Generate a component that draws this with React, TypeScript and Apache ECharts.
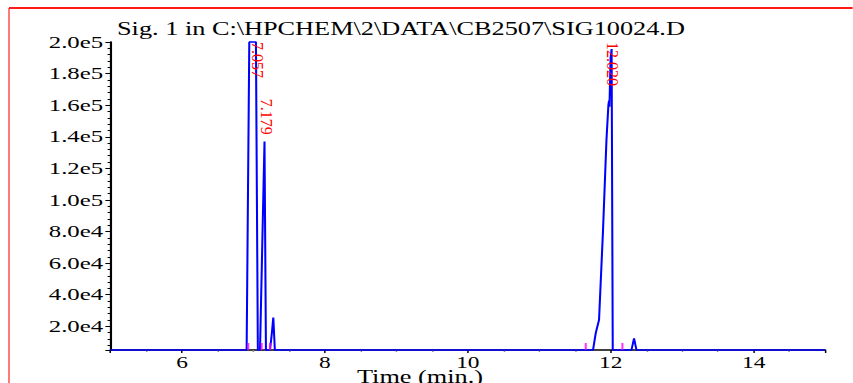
import React, { useEffect, useRef } from "react";
import * as echarts from "echarts";

// ---- data (time in min, signal counts) ----
const timeMin = [
  5.0, 6.905, 6.942, 7.035, 7.062, 7.092, 7.155, 7.175, 7.232, 7.258, 7.278, 7.3,
  11.752, 11.79, 11.836, 11.892, 11.94, 11.967, 11.976, 11.982, 11.998, 12.012, 12.028,
  12.29, 12.326, 12.36, 15.0,
];
const signal = [
  5000, 5000, 200000, 200000, 5000, 5000, 137000, 5000, 5000, 15800, 25500, 5000,
  5000, 15700, 24000, 81000, 138000, 160000, 163000, 159000, 190000, 195500, 5000,
  5000, 12400, 5000, 5000,
];
const peakLabels = ["7.057", "7.179", "12.020"];
const peakLabelTops = [200000, 164000, 200000];
const baselineMarks = [6.927, 7.115, 7.231, 11.65, 12.163];
const baselineLevel = 5000;
const titleText = "Sig. 1 in C:\\HPCHEM\\2\\DATA\\CB2507\\SIG10024.D";
const xName = "Time (min.)";

const S = 1.46; // horizontal stretch of the original picture
const W = 853 / S;
const H = 383;
const FONT = '"Liberation Serif", "Times New Roman", serif';

export default function App() {
  const ref = useRef<HTMLDivElement>(null);
  useEffect(() => {
    if (!ref.current) return;
    const chart = echarts.init(ref.current, null, { renderer: "svg" });
    const lineData = timeMin.map((t, i) => [t, signal[i]]);
    const labelData = peakLabels.map((l, i) => [parseFloat(l), peakLabelTops[i]]);
    const markData = baselineMarks.map((t) => [t, baselineLevel]);
    chart.setOption({
      animation: false,
      title: {
        text: titleText,
        left: 117 / S,
        top: 20,
        padding: 0,
        textStyle: { fontFamily: FONT, fontSize: 18, fontWeight: "normal", color: "#000" },
      },
      graphic: [
        {
          type: "line",
          shape: { x1: 9 / S, y1: 8, x2: W + 5, y2: 8 },
          style: { stroke: "#ff1a1a", lineWidth: 2 },
        },
        {
          type: "line",
          shape: { x1: 9 / S, y1: 8, x2: 9 / S, y2: H + 5 },
          style: { stroke: "#ff1a1a", lineWidth: 0.8 },
        },
        {
          type: "text",
          x: 420 / S,
          y: 368,
          style: {
            text: xName,
            font: `18px ${FONT}`,
            fill: "#000",
            align: "center",
            verticalAlign: "top",
          },
        },
      ],
      grid: { left: 110.5 / S, right: W - 825.5 / S, top: 42, bottom: H - 350 },
      xAxis: {
        type: "value",
        min: 5,
        max: 15,
        splitNumber: 5,
        splitLine: { show: false },
        axisLine: { show: true, onZero: false, lineStyle: { color: "#000", width: 1.5 } },
        axisTick: { show: true, length: 3, lineStyle: { color: "#000" } },
        minorTick: { show: true, splitNumber: 4, length: 2, lineStyle: { color: "#888" } },
        axisLabel: {
          margin: 4,
          fontFamily: FONT,
          fontSize: 16,
          color: "#000",
          formatter: (v: number) => (v > 5 && v < 15 && v % 2 === 0 ? String(v) : ""),
        },
      },
      yAxis: {
        type: "value",
        min: 5000,
        max: 200000,
        splitNumber: 10,
        splitLine: { show: false },
        axisLine: { show: true, onZero: false, lineStyle: { color: "#000", width: 1.5 } },
        axisTick: { show: true, inside: false, length: 3.5, lineStyle: { color: "#000" } },
        minorTick: { show: true, splitNumber: 5, length: 2, lineStyle: { color: "#000" } },
        axisLabel: {
          margin: 5,
          fontFamily: FONT,
          fontSize: 17,
          color: "#000",
          formatter: (v: number) =>
            v % 20000 === 0 && v > 0 ? v.toExponential(1).replace("+", "") : "",
        },
      },
      series: [
        {
          type: "line",
          data: lineData,
          symbol: "none",
          clip: false,
          lineStyle: { color: "#0000ff", width: 1.4 },
          z: 3,
        },
        {
          type: "scatter",
          data: markData,
          symbol: "rect",
          symbolSize: [1.4, 7],
          symbolOffset: [0, -3.5],
          itemStyle: { color: "#ff00ff" },
          z: 4,
        },
        {
          type: "custom",
          data: labelData,
          z: 5,
          renderItem: (params: any, api: any) => {
            const p = api.coord([api.value(0), api.value(1)]);
            return {
              type: "text",
              x: p[0],
              y: p[1],
              rotation: -Math.PI / 2,
              scaleY: 1 / S,
              style: {
                text: peakLabels[params.dataIndex],
                fill: "#ff0000",
                font: `16px ${FONT}`,
                align: "left",
                verticalAlign: "middle",
              },
            };
          },
        },
      ],
    });
    return () => chart.dispose();
  }, []);
  return (
    <div
      ref={ref}
      style={{
        position: "absolute",
        left: 0,
        top: 0,
        width: W,
        height: H,
        transform: `scaleX(${S})`,
        transformOrigin: "0 0",
      }}
    />
  );
}
